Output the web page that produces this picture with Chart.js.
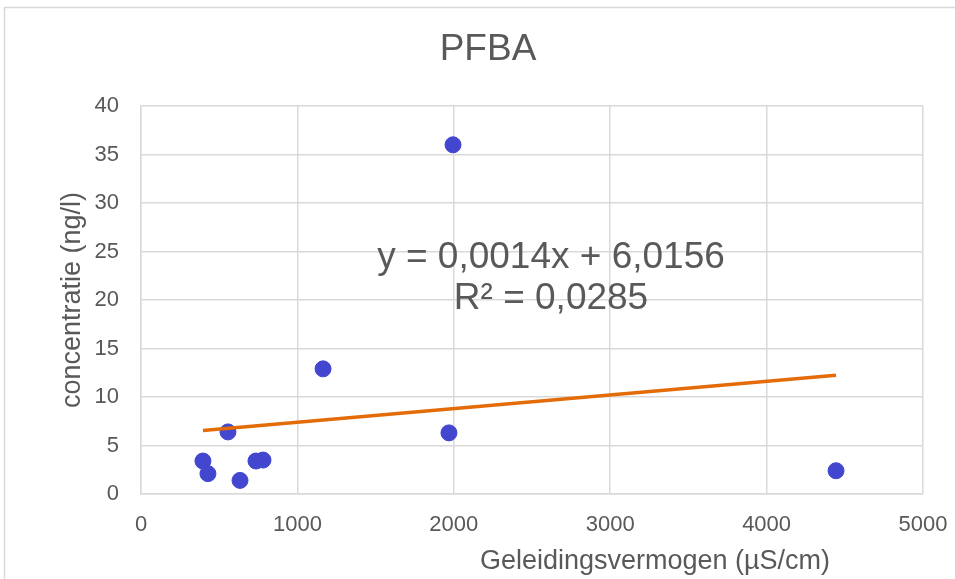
<!DOCTYPE html>
<html>
<head>
<meta charset="utf-8">
<script src="https://cdn.jsdelivr.net/npm/chart.js@4"></script>
<style>
  html, body { margin: 0; padding: 0; background: #fff; }
  #wrap { width: 955px; height: 579px; position: relative; }
</style>
</head>
<body>
<div id="wrap"><canvas id="chart"></canvas></div>
<script>
// measured points (conductivity, concentration)
const geleiding = [396, 428, 556, 633, 735, 780, 1164, 1969, 1995, 4444];
const concentratie = [3.4, 2.1, 6.4, 1.4, 3.4, 3.5, 12.9, 6.3, 36.0, 2.4];

// trendline end points as drawn in the picture
const trendX = [396, 4444];
const trendY = [6.55, 12.24];

const xTicks = [0, 1000, 2000, 3000, 4000, 5000];
const yTicks = [0, 5, 10, 15, 20, 25, 30, 35, 40];

const chartTitle = 'PFBA';
const xTitle = 'Geleidingsvermogen (µS/cm)';
const yTitle = 'concentratie (ng/l)';
const equation = ['y = 0,0014x + 6,0156', 'R² = 0,0285'];

const textColor = '#595959';
const gridColor = '#d9d9d9';
const fontFamily = '"Liberation Sans", Arial, sans-serif';

const decorations = {
    id: 'decorations',
    beforeDraw(chart) {
        const c = chart.ctx;
        c.save();
        c.fillStyle = '#fff';
        c.fillRect(0, 0, chart.width, chart.height);
        c.strokeStyle = gridColor;
        c.lineWidth = 1.5;
        c.strokeRect(4.5, 7.5, chart.width, chart.height);
        c.restore();
    },
    afterDraw(chart) {
        const c = chart.ctx;
        c.save();
        c.fillStyle = textColor;
        c.textAlign = 'center';
        c.textBaseline = 'middle';
        c.font = '37px ' + fontFamily;
        c.fillText(chartTitle, 488, 50);
        c.fillText(equation[0], 551, 258);
        c.fillText(equation[1], 551, 299);
        c.font = '27px ' + fontFamily;
        c.fillText(xTitle, 655, 562);
        c.translate(73, 300);
        c.rotate(-Math.PI / 2);
        c.fillText(yTitle, 0, 0);
        c.restore();
    }
};

const tickFmt = v => String(v);

new Chart(document.getElementById('chart'), {
    type: 'scatter',
    data: {
        datasets: [{
            label: 'PFBA',
            data: geleiding.map((x, i) => ({ x: x, y: concentratie[i] })),
            backgroundColor: '#4346CF',
            borderColor: '#4346CF',
            pointRadius: 8,
            pointHoverRadius: 8,
            order: 2
        },
        {
            label: 'Trend',
            type: 'line',
            data: trendX.map((x, i) => ({ x: x, y: trendY[i] })),
            borderColor: '#E36C09',
            borderWidth: 3.5,
            pointRadius: 0,
            fill: false,
            order: 1
        }]
    },
    options: {
        responsive: true,
        maintainAspectRatio: false,
        animation: false,
        layout: { padding: { top: 106, right: 32, left: 0, bottom: 0 } },
        plugins: {
            legend: { display: false },
            title: { display: false },
            tooltip: { enabled: false }
        },
        scales: {
            x: {
                type: 'linear',
                min: 0,
                max: 5000,
                afterBuildTicks: scale => { scale.ticks = xTicks.map(v => ({ value: v })); },
                afterFit: scale => {
                    scale.height = 85;
                    scale.paddingLeft = 0;
                    scale.paddingRight = 0;
                },
                grid: { color: gridColor, lineWidth: 1.5, drawTicks: false },
                border: { color: gridColor, width: 1.5 },
                ticks: {
                    color: textColor,
                    padding: 18,
                    callback: tickFmt,
                    font: { family: fontFamily, size: 22 }
                }
            },
            y: {
                min: 0,
                max: 40,
                afterBuildTicks: scale => { scale.ticks = yTicks.map(v => ({ value: v })); },
                afterFit: scale => {
                    scale.width = 141;
                    scale.paddingTop = 0;
                    scale.paddingBottom = 0;
                },
                grid: { color: gridColor, lineWidth: 1.5, drawTicks: false },
                border: { color: gridColor, width: 1.5 },
                ticks: {
                    color: textColor,
                    padding: 22,
                    callback: tickFmt,
                    font: { family: fontFamily, size: 22 }
                }
            }
        }
    },
    plugins: [decorations]
});
</script>
</body>
</html>
